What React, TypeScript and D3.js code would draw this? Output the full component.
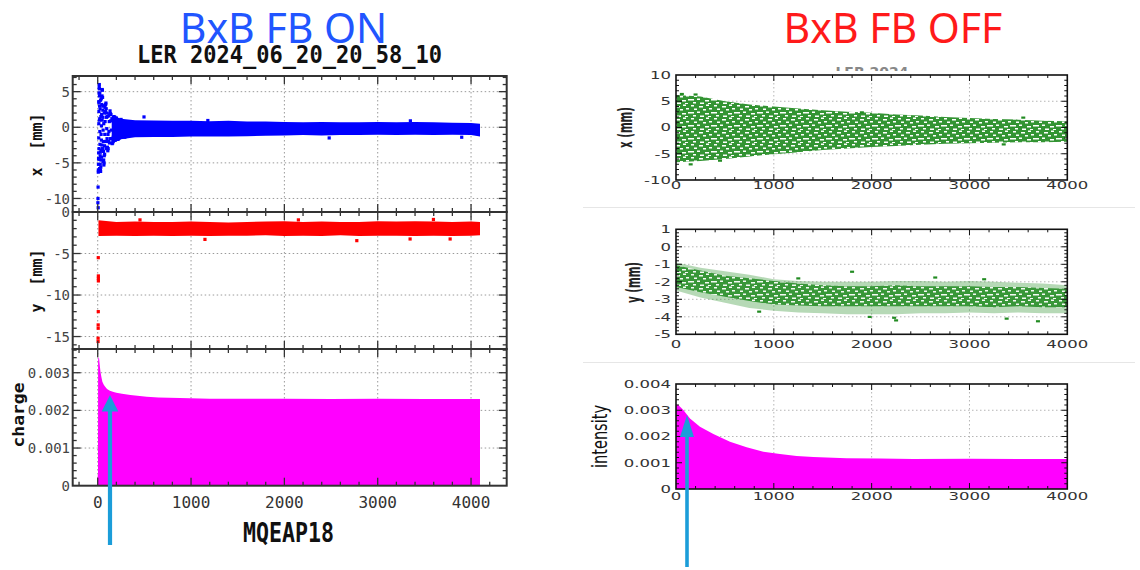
import React from 'react';
import * as d3 from 'd3';

type Pt = [number, number];

// ================= DATA =================
const bunchMajor = [0, 1000, 2000, 3000, 4000];

// ---- BxB FB ON ----
const onXTicks = [5, 0, -5, -10];
const onYTicks = [0, -5, -10, -15];
const onChargeTicks = [0, 0.001, 0.002, 0.003];

// x [mm] : injection oscillation (bunch, x)
const onXEarly: Pt[] = [
  [2,-10.6],[3,-10.0],[4,-8.4],[5,-11.3],[6,-6.3],[7,-6.0],[8,-5.2],[9,-4.4],[10,-3.6],[11,-1.5],[12,0.5],[12,3.5],
  [13,2.2],[14,3.6],[14,-3.0],[15,4.8],[16,5.6],[16,-4.5],[17,6.0],[18,5.4],[18,1.0],[19,4.4],[20,3.0],[20,-5.8],
  [22,1.2],[22,4.8],[23,-0.6],[24,-2.4],[25,2.6],[26,-4.0],[27,-5.2],[28,-3.5],[29,-6.0],[30,3.8],[31,-6.2],[33,-5.6],
  [34,1.5],[35,-4.6],[36,-1.0],[37,-3.2],[38,4.0],[39,-1.8],[40,0.2],[41,-4.2],[42,1.8],[44,3.2],[45,-2.5],[46,4.4],
  [47,1.0],[48,5.3],[50,5.2],[52,4.2],[52,-3.0],[54,3.0],[55,2.4],[56,1.4],[58,-0.4],[58,-4.8],[60,-2.0],[62,-3.4],
  [62,3.0],[64,-4.6],[65,0.5],[66,-5.3],[68,-5.0],[70,-4.0],[70,2.0],[73,-2.6],[74,-3.8],[76,-1.0],[78,2.8],[79,0.8],
  [82,2.2],[84,-2.0],[85,3.2],[88,3.4],[90,-3.0],[91,2.6],[94,1.4],[95,2.0],[97,-0.2],[100,-1.6],[102,1.5],[104,-2.8],
  [108,-3.3],[110,-1.0],[112,-3.0],[116,-2.0],[118,1.6],[120,-0.6],[124,0.8],[126,-2.2],[128,1.9],[132,2.3],[135,-1.6],
  [136,1.9],[140,0.9],[142,1.8],[145,-0.4],[150,-1.6],[152,1.2],[155,-2.3],[160,-2.2],[165,-2.0],[166,-1.4],[172,-0.3],
  [175,1.5],[178,0.8],[184,1.4],[188,-1.8],[190,1.2],[196,0.4],[200,1.3],[203,-0.7],[210,-1.5],[215,1.0],[218,-1.7],
  [226,-1.1],[230,-1.5],[234,-0.2],[242,0.6],[250,1.1],[255,-1.3],[260,0.8],[270,0.0],[280,-0.9],[290,-1.4],[300,-1.2],
  [496,1.45],[1180,0.95],[2480,-1.5],[3350,0.9],[3900,-1.4]
];
// x [mm] : dense band after damping
const onXBandBunch = [150, 250, 400, 600, 800, 1000, 1200, 1400, 1600, 1800, 2000, 2200, 2400, 2600, 2800, 3000, 3200, 3400, 3600, 3800, 4000, 4096];
const onXBandHi = [1.7, 1.2, 1.0, 0.95, 0.9, 0.9, 0.85, 0.9, 0.8, 0.8, 0.75, 0.7, 0.75, 0.7, 0.7, 0.75, 0.7, 0.75, 0.7, 0.65, 0.6, 0.5];
const onXBandLo = [-2.3, -1.7, -1.4, -1.35, -1.35, -1.3, -1.3, -1.3, -1.25, -1.2, -1.15, -1.1, -1.15, -1.1, -1.1, -1.05, -1.1, -1.05, -1.1, -1.05, -1.1, -1.3];

// y [mm]
const onYEarly: Pt[] = [
  [4,-15.6],[4,-15.2],[5,-14.0],[5,-13.6],[6,-12.0],[7,-8.3],[7,-8.0],[7,-7.7],[6,-5.5],
  [453,-0.95],[1149,-3.3],[2776,-3.45],[3347,-3.25],[3597,-0.9],[3776,-3.25],[2150,-0.95]
];
const onYBandBunch = [8, 200, 400, 600, 800, 1000, 1200, 1400, 1600, 1800, 2000, 2200, 2400, 2600, 2800, 3000, 3200, 3400, 3600, 3800, 4000, 4096];
const onYBandHi = [-1.0, -1.2, -1.15, -1.2, -1.2, -1.15, -1.2, -1.25, -1.2, -1.15, -1.1, -1.2, -1.15, -1.2, -1.2, -1.1, -1.15, -1.1, -1.15, -1.2, -1.15, -1.2];
const onYBandLo = [-2.9, -2.85, -2.9, -2.85, -2.9, -2.85, -2.9, -2.85, -2.85, -2.8, -2.9, -2.85, -2.9, -2.8, -2.9, -2.85, -2.85, -2.9, -2.85, -2.9, -2.85, -2.8];

// charge per bunch
const onChargeBunch = [0, 3, 4, 8, 15, 22, 30, 40, 50, 65, 80, 100, 130, 170, 200, 260, 350, 450, 525, 650, 880, 1200, 1600, 2000, 2500, 3000, 3500, 4000, 4096];
const onChargeVal = [0.00028, 0.00028, 0.0033, 0.00342, 0.00338, 0.0032, 0.00302, 0.00288, 0.00276, 0.00268, 0.00263, 0.00257, 0.00252, 0.00249, 0.00247, 0.00244, 0.00241, 0.00238, 0.00236, 0.00234, 0.00233, 0.00231, 0.00231, 0.00231, 0.0023, 0.00231, 0.0023, 0.0023, 0.0023];

// ---- BxB FB OFF ----
const offXTicks = [10, 5, 0, -5, -10];
const offYTicks = [1, 0, -1, -2, -3, -4, -5];
const offIntTicks = [0, 0.001, 0.002, 0.003, 0.004];

const offBandBunch = [0, 250, 500, 750, 1000, 1250, 1500, 1750, 2000, 2250, 2500, 2750, 3000, 3250, 3500, 3750, 4000];
const offXHi = [6.2, 5.9, 5.0, 4.4, 4.0, 3.6, 3.3, 3.0, 2.8, 2.5, 2.3, 2.0, 1.8, 1.6, 1.5, 1.3, 1.2];
const offXLo = [-6.6, -6.4, -6.0, -5.5, -5.1, -4.7, -4.3, -4.0, -3.7, -3.5, -3.3, -3.1, -3.0, -2.9, -2.8, -2.8, -2.7];
const offXOut: Pt[] = [[150,-7.0],[450,-6.3],[60,6.4],[200,6.3],[1900,2.9],[3550,1.9],[3350,-3.2]];

const offYHi = [-0.9, -1.2, -1.4, -1.6, -1.85, -1.95, -2.0, -2.0, -2.0, -1.95, -1.95, -2.0, -1.95, -2.0, -2.05, -2.1, -2.2];
const offYLo = [-2.5, -2.9, -3.2, -3.5, -3.65, -3.75, -3.8, -3.85, -3.85, -3.85, -3.8, -3.8, -3.75, -3.8, -3.75, -3.8, -3.8];
const offYCoreHi = [-1.05, -1.35, -1.65, -1.8, -1.95, -2.1, -2.2, -2.25, -2.25, -2.2, -2.25, -2.25, -2.25, -2.3, -2.3, -2.35, -2.4];
const offYCoreLo = [-2.3, -2.6, -2.85, -3.1, -3.3, -3.35, -3.4, -3.4, -3.4, -3.4, -3.4, -3.4, -3.4, -3.45, -3.4, -3.45, -3.45];
const offYOut: Pt[] = [[1800,-1.42],[2250,-4.2],[2230,-4.05],[3700,-4.25],[3380,-4.1],[1980,-4.0],[2650,-1.75],[3150,-1.85],[1250,-1.8],[850,-3.7]];

const offIntBunch = [0, 10, 24, 75, 143, 245, 382, 552, 722, 893, 1063, 1233, 1404, 1744, 2085, 2426, 3000, 3500, 4000];
const offIntVal = [0.00315, 0.00322, 0.0032, 0.00301, 0.00269, 0.00237, 0.0021, 0.0018, 0.00159, 0.00142, 0.00133, 0.00126, 0.00122, 0.00117, 0.00116, 0.00114, 0.00115, 0.00114, 0.00114];

// ================= HELPERS =================
function steps(a: number, b: number, s: number) {
  const out: number[] = [];
  const n = Math.round((b - a) / s);
  for (let i = 0; i <= n; i++) out.push(+(a + i * s).toFixed(7));
  return out;
}
const near = (arr: number[], v: number) => arr.some(a => Math.abs(a - v) < 1e-7);

function Ticks({ xs, ys, xMajor, xMinor, yMajor, yMinor, maj, min, color, width }: any) {
  const [L, R] = xs.range();
  const [T, B] = ys.range();
  const els: any[] = [];
  xMinor.forEach((v: number, i: number) => {
    const x = xs(v);
    if (x < L + 1 || x > R - 1) return;
    const len = near(xMajor, v) ? maj : min;
    els.push(<line key={'t' + i} x1={x} y1={T} x2={x} y2={T + len} />);
    els.push(<line key={'b' + i} x1={x} y1={B} x2={x} y2={B - len} />);
  });
  yMinor.forEach((v: number, i: number) => {
    const y = ys(v);
    if (y < T + 1 || y > B - 1) return;
    const len = near(yMajor, v) ? maj : min;
    els.push(<line key={'l' + i} x1={L} y1={y} x2={L + len} y2={y} />);
    els.push(<line key={'r' + i} x1={R} y1={y} x2={R - len} y2={y} />);
  });
  return <g stroke={color} strokeWidth={width}>{els}</g>;
}

function Grid({ xs, ys, xVals, yVals, color }: any) {
  const [L, R] = xs.range();
  const [T, B] = ys.range();
  return (
    <g stroke={color} strokeWidth={1} strokeDasharray="1.5,2.5">
      {xVals.filter((v: number) => xs(v) > L + 1 && xs(v) < R - 1).map((v: number) => (
        <line key={'gx' + v} x1={xs(v)} x2={xs(v)} y1={T} y2={B} />
      ))}
      {yVals.filter((v: number) => ys(v) > T + 1 && ys(v) < B - 1).map((v: number) => (
        <line key={'gy' + v} x1={L} x2={R} y1={ys(v)} y2={ys(v)} />
      ))}
    </g>
  );
}

function Band({ xs, ys, bunch, hi, lo, fill, opacity }: any) {
  const gen = d3.area<number>()
    .x((_, i) => xs(bunch[i]))
    .y0((_, i) => ys(lo[i]))
    .y1((_, i) => ys(hi[i]));
  return <path d={gen(bunch) || ''} fill={fill} fillOpacity={opacity} />;
}

// ================= SCALES =================
const xL = d3.scaleLinear().domain([-268, 4382]).range([72.7, 506.7]);
const yOnX = d3.scaleLinear().domain([7.2, -11.9]).range([76, 212]);
const yOnY = d3.scaleLinear().domain([0, -16.5]).range([212, 349]);
const yOnC = d3.scaleLinear().domain([0.00363, 0]).range([349, 485.7]);

const xR = d3.scaleLinear().domain([0, 4000]).range([676, 1067.3]);
const yOffX = d3.scaleLinear().domain([10, -10]).range([75, 180]);
const yOffY = d3.scaleLinear().domain([1, -5]).range([229.3, 334.3]);
const yOffI = d3.scaleLinear().domain([0.004, 0]).range([384, 489]);

const MONO = "'DejaVu Sans Mono', monospace";
const SANS = "'DejaVu Sans', sans-serif";
const GREEN = '#228b22';

// white speckle gaps of the dash texture (style only)
const speckle = [
  [1, 1, 3], [9, 2, 4], [16, 0.5, 3], [4, 4.5, 3], [13, 5, 3], [19, 4, 3], [0, 8, 4],
  [7, 7.5, 3], [15, 9, 4], [21, 8, 2], [3, 11, 3], [10, 11.5, 4], [18, 12, 3],
];

export default function App() {
  const leftMinorX = steps(-200, 4200, 200);
  const rightMinorX = steps(0, 4000, 200);

  const chargeArea = d3.area<number>()
    .x((_, i) => xL(onChargeBunch[i]))
    .y0(yOnC(0))
    .y1((_, i) => yOnC(onChargeVal[i]));
  const intArea = d3.area<number>()
    .x((_, i) => xR(offIntBunch[i]))
    .y0(yOffI(0))
    .y1((_, i) => yOffI(offIntVal[i]));

  const leftPanels = [
    { ys: yOnX, ticks: onXTicks, minor: steps(-11, 7, 1) },
    { ys: yOnY, ticks: onYTicks, minor: steps(-16, 0, 1) },
    { ys: yOnC, ticks: onChargeTicks, minor: steps(0, 0.0036, 0.0002) },
  ];
  const rightPanels = [
    { ys: yOffX, ticks: offXTicks, minor: steps(-10, 10, 1), lab: 189 },
    { ys: yOffY, ticks: offYTicks, minor: steps(-5, 1, 0.2), lab: 348 },
    { ys: yOffI, ticks: offIntTicks, minor: steps(0, 0.004, 0.0002), lab: 500 },
  ];

  return (
    <svg width={1140} height={570} style={{ position: 'absolute', left: 0, top: 0, background: '#fff' }}>
      <defs>
        <clipPath id="cutTitle"><rect x={815} y={67} width={110} height={4} /></clipPath>
        <clipPath id="clipL"><rect x={72.7} y={76} width={434} height={410} /></clipPath>
        <clipPath id="clipR1"><rect x={676} y={75} width={391.3} height={105} /></clipPath>
        <clipPath id="clipR2"><rect x={676} y={229.3} width={391.3} height={105} /></clipPath>
        <pattern id="dashTex" patternUnits="userSpaceOnUse" width={23} height={13}>
          <rect x={0} y={0} width={23} height={13} fill={GREEN} />
          {speckle.map((s, i) => (
            <rect key={i} x={s[0]} y={s[1]} width={s[2]} height={1.5} fill="#fff" />
          ))}
        </pattern>
      </defs>
      <rect x={0} y={0} width={1140} height={570} fill="#fff" />

      {/* headings */}
      <text x={283.5} y={43} textAnchor="middle" fontFamily="'Noto Sans', sans-serif" fontSize={41} fill="#2155ff">BxB FB ON</text>
      <text x={893} y={43} textAnchor="middle" fontFamily="'Noto Sans', sans-serif" fontSize={41} fill="#ff1a1a">BxB FB OFF</text>

      {/* ============ LEFT (FB ON) ============ */}
      <text x={289.5} y={63} textAnchor="middle" fontFamily={MONO} fontWeight="bold" fontSize={24}
        textLength={305} lengthAdjust="spacingAndGlyphs" fill="#111">LER 2024_06_20_20_58_10</text>

      {leftPanels.map((p, k) => (
        <Grid key={'lg' + k} xs={xL} ys={p.ys} xVals={bunchMajor} yVals={p.ticks} color="#9a9a9a" />
      ))}

      <g clipPath="url(#clipL)">
        <Band xs={xL} ys={yOnX} bunch={onXBandBunch} hi={onXBandHi} lo={onXBandLo} fill="#0000ff" opacity={1} />
        {onXEarly.map((d, i) => (
          <rect key={'ox' + i} x={xL(d[0]) - 1.6} y={yOnX(d[1]) - 1.6} width={3.2} height={3.2} fill="#0000ff" />
        ))}
        <Band xs={xL} ys={yOnY} bunch={onYBandBunch} hi={onYBandHi} lo={onYBandLo} fill="#ff0000" opacity={1} />
        {onYEarly.map((d, i) => (
          <rect key={'oy' + i} x={xL(d[0]) - 1.6} y={yOnY(d[1]) - 1.6} width={3.2} height={3.2} fill="#ff0000" />
        ))}
        <path d={chargeArea(onChargeBunch) || ''} fill="#ff00ff" />
      </g>

      {leftPanels.map((p, k) => (
        <g key={'lp' + k}>
          <Ticks xs={xL} ys={p.ys} xMajor={bunchMajor} xMinor={leftMinorX} yMajor={p.ticks} yMinor={p.minor}
            maj={8} min={4} color="#333" width={1.3} />
          <rect x={72.7} y={p.ys.range()[0]} width={434} height={p.ys.range()[1] - p.ys.range()[0]}
            fill="none" stroke="#333" strokeWidth={2} />
          {p.ticks.map(t => (
            <text key={t} x={70} y={p.ys(t)} dy="0.36em" textAnchor="end" fontFamily={MONO} fontSize={14} fill="#444">{String(t)}</text>
          ))}
        </g>
      ))}
      {bunchMajor.map(t => (
        <text key={'lx' + t} x={xL(t)} y={508} textAnchor="middle" fontFamily={MONO} fontSize={16} fill="#333">{String(t)}</text>
      ))}
      <text x={288.5} y={541.5} textAnchor="middle" fontFamily={MONO} fontWeight="bold" fontSize={26}
        textLength={91} lengthAdjust="spacingAndGlyphs" fill="#111">MQEAP18</text>
      <text transform="translate(42,145) rotate(-90)" textAnchor="middle" fontFamily={MONO} fontWeight="bold"
        fontSize={15} fill="#111" style={{ whiteSpace: 'pre' }}>{'x  [mm]'}</text>
      <text transform="translate(42,281) rotate(-90)" textAnchor="middle" fontFamily={MONO} fontWeight="bold"
        fontSize={15} fill="#111" style={{ whiteSpace: 'pre' }}>{'y  [mm]'}</text>
      <text transform="translate(24,415) rotate(-90)" textAnchor="middle" fontFamily={MONO} fontWeight="bold"
        fontSize={16} textLength={65} lengthAdjust="spacingAndGlyphs" fill="#111">charge</text>

      {/* ============ RIGHT (FB OFF) ============ */}
      <text x={872} y={77} textAnchor="middle" fontFamily={SANS} fontWeight="bold" fontSize={14} fill="#888"
        clipPath="url(#cutTitle)">LER 2024</text>
      <line x1={583} x2={1135} y1={207.5} y2={207.5} stroke="#e6e6e6" strokeWidth={1} />
      <line x1={583} x2={1135} y1={362.5} y2={362.5} stroke="#e6e6e6" strokeWidth={1} />

      {rightPanels.map((p, k) => (
        <Grid key={'rg' + k} xs={xR} ys={p.ys} xVals={bunchMajor} yVals={p.ticks} color="#b5b5b5" />
      ))}

      <g clipPath="url(#clipR1)">
        <Band xs={xR} ys={yOffX} bunch={offBandBunch} hi={offXHi} lo={offXLo} fill="url(#dashTex)" opacity={0.92} />
        {offXOut.map((d, i) => (
          <rect key={'fx' + i} x={xR(d[0]) - 2} y={yOffX(d[1]) - 1} width={4} height={2.2} fill={GREEN} />
        ))}
      </g>
      <g clipPath="url(#clipR2)">
        <Band xs={xR} ys={yOffY} bunch={offBandBunch} hi={offYHi} lo={offYLo} fill={GREEN} opacity={0.33} />
        <Band xs={xR} ys={yOffY} bunch={offBandBunch} hi={offYCoreHi} lo={offYCoreLo} fill="url(#dashTex)" opacity={0.85} />
        {offYOut.map((d, i) => (
          <rect key={'fy' + i} x={xR(d[0]) - 2} y={yOffY(d[1]) - 1} width={4} height={2.2} fill={GREEN} />
        ))}
      </g>
      <path d={intArea(offIntBunch) || ''} fill="#ff00ff" />

      {rightPanels.map((p, k) => (
        <g key={'rp' + k}>
          <Ticks xs={xR} ys={p.ys} xMajor={bunchMajor} xMinor={rightMinorX} yMajor={p.ticks} yMinor={p.minor}
            maj={6} min={3} color="#111" width={1} />
          <rect x={676} y={p.ys.range()[0]} width={391.3} height={p.ys.range()[1] - p.ys.range()[0]}
            fill="none" stroke="#111" strokeWidth={1.6} />
          {p.ticks.map(t => (
            <text key={'ry' + t} transform={`translate(671,${p.ys(t)}) scale(1.5,1)`} dy="0.36em" textAnchor="end"
              fontFamily={SANS} fontSize={11} fill="#333">{String(t)}</text>
          ))}
          {bunchMajor.map(t => (
            <text key={'rx' + t} transform={`translate(${xR(t)},${p.lab}) scale(1.5,1)`} textAnchor="middle"
              fontFamily={SANS} fontSize={11} fill="#333">{String(t)}</text>
          ))}
        </g>
      ))}
      <text transform="translate(632,127.5) rotate(-90)" textAnchor="middle" fontFamily={SANS} fontWeight="bold"
        fontSize={19} textLength={41} lengthAdjust="spacingAndGlyphs" fill="#222">x (mm)</text>
      <text transform="translate(640,282.5) rotate(-90)" textAnchor="middle" fontFamily={SANS} fontWeight="bold"
        fontSize={19} textLength={41} lengthAdjust="spacingAndGlyphs" fill="#222">y (mm)</text>
      <text transform="translate(607,436.5) rotate(-90)" textAnchor="middle" fontFamily={SANS}
        fontSize={21} textLength={63} lengthAdjust="spacingAndGlyphs" fill="#111">intensity</text>

      {/* arrows */}
      <g fill="#1b9dd9" stroke="#1b9dd9">
        <line x1={110} y1={545} x2={110} y2={408} strokeWidth={4.2} />
        <path d="M110,395 L101.7,411.5 L118.3,411.5 Z" stroke="none" />
        <line x1={687} y1={567} x2={687} y2={434} strokeWidth={3.6} />
        <path d="M687,415 L680,437 L694,437 Z" stroke="none" />
      </g>
    </svg>
  );
}
